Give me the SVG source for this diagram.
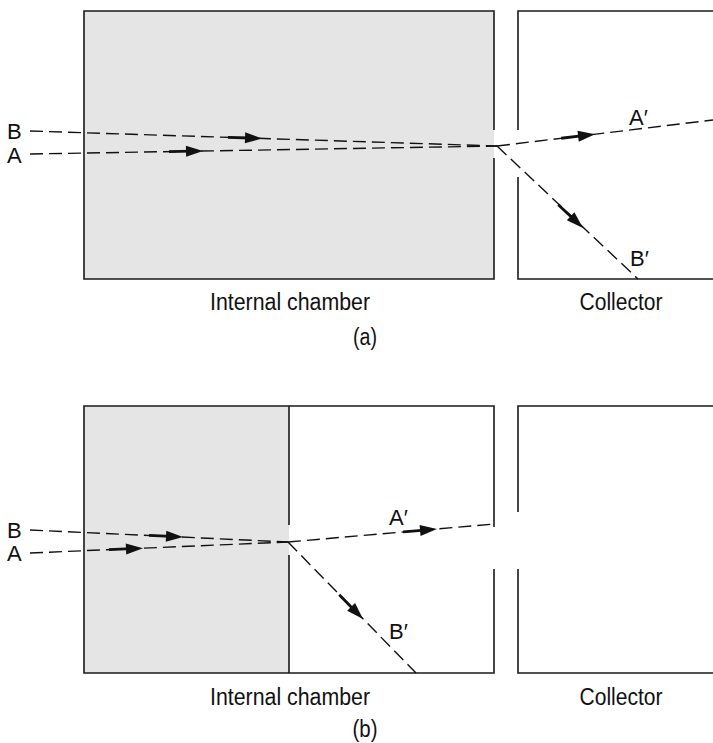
<svg xmlns="http://www.w3.org/2000/svg" xmlns:xlink="http://www.w3.org/1999/xlink" width="713" height="743" viewBox="0 0 713 743">
<style>
.wall{fill:none;stroke:#1a1a1a;stroke-width:1.6}
.gray{fill:#e5e5e5;stroke:none}
.ray{fill:none;stroke:#111;stroke-width:1.4;stroke-dasharray:13 6}
.arr{fill:#111;stroke:#111}
text{font-family:"Liberation Sans",Arial,sans-serif;font-size:22px;fill:#111}
.cap{font-size:23px}
.mid{text-anchor:middle}
</style>
<defs>
<g id="arrow" class="arr">
<line x1="-34" y1="0" x2="-12" y2="0" stroke-width="2.8"/>
<polygon points="0,0 -17,-5.5 -17,5.5" stroke="none"/>
</g>
</defs>
<g id="panel-a">
<g id="chamber-a">
<rect class="gray" x="84" y="11" width="410" height="268"/>
<path class="wall" d="M494,130 V11 H84 V279 H494 V158"/>
<text class="mid cap" x="290" y="310" textLength="160" lengthAdjust="spacingAndGlyphs">Internal chamber</text>
</g>
<g id="collector-a">
<path class="wall" d="M713,11 H518 V130 M518,177 V279 H713"/>
<text class="mid cap" x="621" y="310" textLength="83" lengthAdjust="spacingAndGlyphs">Collector</text>
</g>
<g id="labels-a">
<text x="7" y="139">B</text>
<text x="7" y="163">A</text>
<text x="629" y="125">A′</text>
<text x="630" y="266">B′</text>
<text class="mid cap" x="365" y="345" textLength="24" lengthAdjust="spacingAndGlyphs">(a)</text>
</g>
</g>
<g id="panel-b">
<g id="chamber-b">
<rect class="gray" x="84" y="406" width="205" height="267"/>
<path class="wall" d="M494,527 V406 H84 V673 H494 V569"/>
<path class="wall" d="M289,406 V525 M289,555 V673"/>
<text class="mid cap" x="290" y="705" textLength="160" lengthAdjust="spacingAndGlyphs">Internal chamber</text>
</g>
<g id="collector-b">
<path class="wall" d="M713,406 H518 V512 M518,569 V673 H713"/>
<text class="mid cap" x="621" y="705" textLength="83" lengthAdjust="spacingAndGlyphs">Collector</text>
</g>
<g id="labels-b">
<text x="7" y="538">B</text>
<text x="7" y="561">A</text>
<text x="389" y="525">A′</text>
<text x="389" y="639">B′</text>
<text class="mid cap" x="365" y="737" textLength="25" lengthAdjust="spacingAndGlyphs">(b)</text>
</g>
</g>
<g id="connectors">
<line class="ray" x1="30" y1="131" x2="497" y2="146"/>
<line class="ray" x1="30" y1="154" x2="497" y2="146"/>
<line class="ray" x1="497" y1="146" x2="713" y2="120"/>
<line class="ray" x1="497" y1="146" x2="638" y2="279"/>
<use xlink:href="#arrow" transform="translate(262,138.4) rotate(1.84)"/>
<use xlink:href="#arrow" transform="translate(203,151) rotate(-0.98)"/>
<use xlink:href="#arrow" transform="translate(595,134.2) rotate(-6.86)"/>
<use xlink:href="#arrow" transform="translate(583,228) rotate(43.3)"/>
<line class="ray" x1="30" y1="530" x2="288" y2="542"/>
<line class="ray" x1="30" y1="553" x2="288" y2="542"/>
<line class="ray" x1="288" y1="542" x2="494" y2="524"/>
<line class="ray" x1="288" y1="542" x2="416" y2="673"/>
<use xlink:href="#arrow" transform="translate(183,537) rotate(2.66)"/>
<use xlink:href="#arrow" transform="translate(143,548.2) rotate(-2.44)"/>
<use xlink:href="#arrow" transform="translate(437,529) rotate(-4.99)"/>
<use xlink:href="#arrow" transform="translate(363,619) rotate(45.65)"/>
</g>
</svg>
